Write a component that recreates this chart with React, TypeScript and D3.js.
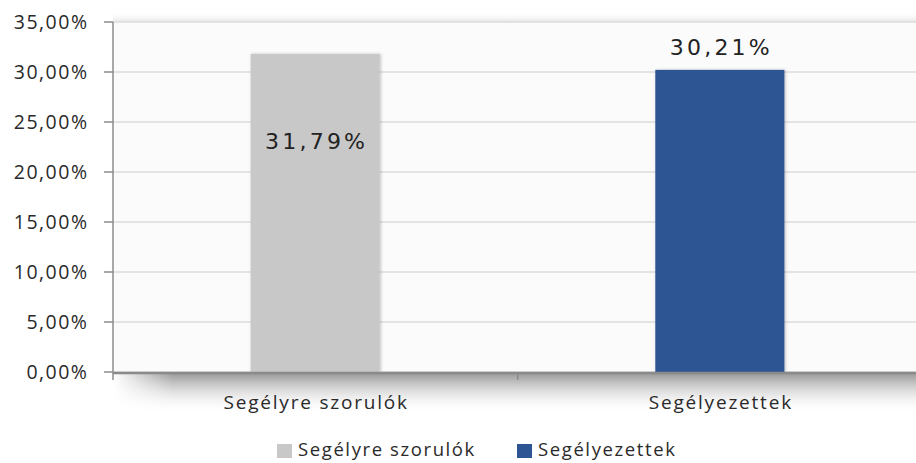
import React from "react";
import * as d3 from "d3";

const categories = ["Segélyre szorulók", "Segélyezettek"];
const values = [31.79, 30.21];
const labels = ["31,79%", "30,21%"];
const colors = ["#c8c8c8", "#2e5593"];
const yTicks = [0, 5, 10, 15, 20, 25, 30, 35];
const yTickLabels = ["0,00%", "5,00%", "10,00%", "15,00%", "20,00%", "25,00%", "30,00%", "35,00%"];

const W = 916;
const H = 463;
const left = 113;
const right = 922;
const top = 22;
const bottom = 372;

export default function App() {
  const x = d3.scaleBand<string>().domain(categories).range([left, right]).paddingInner(0.681).paddingOuter(0.34);
  const y = d3.scaleLinear().domain([0, 35]).range([bottom, top]);
  const step = x.step();
  const labelFont = "'Open Sans', 'Noto Sans', sans-serif";
  const legendX = [277, 517];
  return (
    <svg width={W} height={H} style={{ position: "absolute", left: 0, top: 0, background: "#fff" }}>
      <defs>
        <linearGradient id="shadowGrad" x1="0" y1="0" x2="0" y2="1">
          <stop offset="0" stopColor="#8a8a8a" stopOpacity="0.85" />
          <stop offset="0.35" stopColor="#bdbdbd" stopOpacity="0.65" />
          <stop offset="1" stopColor="#ffffff" stopOpacity="0" />
        </linearGradient>
        <linearGradient id="shadowLeft" x1="0" y1="0" x2="1" y2="0">
          <stop offset="0" stopColor="#ffffff" stopOpacity="1" />
          <stop offset="1" stopColor="#ffffff" stopOpacity="0" />
        </linearGradient>
        <linearGradient id="topGrad" x1="0" y1="0" x2="0" y2="1">
          <stop offset="0" stopColor="#ffffff" stopOpacity="0" />
          <stop offset="1" stopColor="#e6e6e6" stopOpacity="1" />
        </linearGradient>
        <filter id="barShadow" x="-20%" y="-5%" width="140%" height="110%">
          <feDropShadow dx="1" dy="0" stdDeviation="1.5" floodColor="#000" floodOpacity="0.25" />
        </filter>
      </defs>
      {/* top soft band */}
      <rect x={left} y={top - 10} width={W - left} height={10} fill="url(#topGrad)" />
      {/* bottom shadow */}
      <rect x={left} y={bottom + 2} width={W - left} height={40} fill="url(#shadowGrad)" />
      <rect x={left} y={bottom + 2} width={60} height={40} fill="url(#shadowLeft)" />
      {/* plot background */}
      <rect x={left} y={top} width={W - left} height={bottom - top} fill="#fbfbfb" />
      {/* gridlines */}
      {yTicks.map((t) => (
        <line key={"g" + t} x1={left} x2={W} y1={y(t)} y2={y(t)} stroke="#dcdcdc" strokeWidth={1.5} />
      ))}
      {/* bars */}
      {categories.map((c, i) => (
        <rect
          key={c}
          x={x(c)}
          y={y(values[i])}
          width={x.bandwidth()}
          height={y(0) - y(values[i])}
          fill={colors[i]}
          filter="url(#barShadow)"
        />
      ))}
      {/* axes */}
      <line x1={left} x2={left} y1={top} y2={bottom + 8} stroke="#8c8c8c" strokeWidth={1.5} />
      <line x1={left} x2={W} y1={bottom + 1} y2={bottom + 1} stroke="#8a8a8a" strokeWidth={2.5} />
      {yTicks.map((t) => (
        <line key={"t" + t} x1={left - 9} x2={left} y1={y(t)} y2={y(t)} stroke="#8c8c8c" strokeWidth={1.5} />
      ))}
      <line x1={left + step} x2={left + step} y1={bottom + 2} y2={bottom + 8} stroke="#8c8c8c" strokeWidth={1.5} />
      {/* y tick labels */}
      {yTickLabels.map((lab, i) => (
        <text
          key={"l" + lab}
          x={88.5}
          y={y(yTicks[i])}
          dy="0.36em"
          textAnchor="end"
          fontFamily={labelFont}
          fontSize={19.5}
          letterSpacing={1.5}
          fill="#2a2a2a"
        >
          {lab}
        </text>
      ))}
      {/* category labels */}
      {categories.map((c) => (
        <text
          key={"c" + c}
          x={(x(c) as number) + x.bandwidth() / 2 + 1}
          y={409}
          textAnchor="middle"
          fontFamily={labelFont}
          fontSize={19}
          letterSpacing={1.8}
          fill="#2a2a2a"
        >
          {c}
        </text>
      ))}
      {/* data labels */}
      <text
        x={(x(categories[0]) as number) + x.bandwidth() / 2 + 1.5}
        y={y(values[0]) + 95}
        textAnchor="middle"
        fontFamily="'DejaVu Sans', Verdana, sans-serif"
        fontSize={22}
        letterSpacing={3.2}
        fill="#222"
      >
        {labels[0]}
      </text>
      <text
        x={(x(categories[1]) as number) + x.bandwidth() / 2 + 1.5}
        y={y(values[1]) - 15}
        textAnchor="middle"
        fontFamily="'DejaVu Sans', Verdana, sans-serif"
        fontSize={22}
        letterSpacing={3.2}
        fill="#222"
      >
        {labels[1]}
      </text>
      {/* legend */}
      {categories.map((c, i) => (
        <g key={"lg" + c} transform={`translate(${legendX[i]},0)`}>
          <rect x={0} y={444} width={15} height={14} fill={colors[i]} />
          <text x={21} y={456} fontFamily={labelFont} fontSize={18.5} letterSpacing={1.6} fill="#2a2a2a">
            {c}
          </text>
        </g>
      ))}
    </svg>
  );
}
